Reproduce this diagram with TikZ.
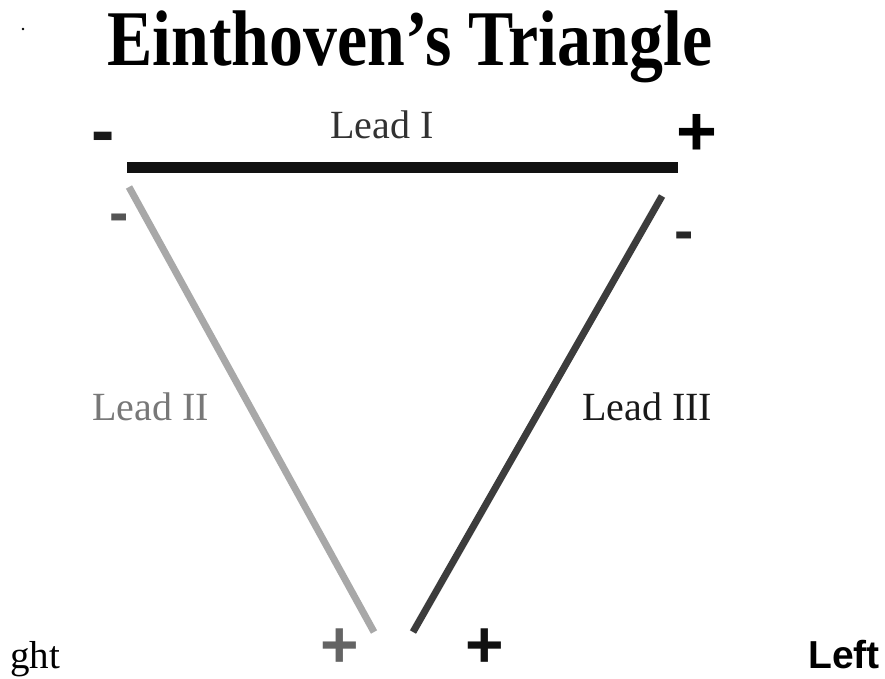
\documentclass[tikz,border=0pt]{standalone}
\usepackage{fontspec}
\setmainfont{Liberation Serif}
\newfontfamily\arialbold{Liberation Sans}
\begin{document}
\begin{tikzpicture}[x=1pt,y=-1pt,
  sign/.style={inner sep=0pt,anchor=base,text depth=0pt,font=\fontsize{#1}{#1}\selectfont\bfseries\arialbold},
  leadlbl/.style={inner sep=0pt,anchor=base west,font=\fontsize{40}{40}\selectfont},
  leadline/.style={line width=#1,line cap=butt}]
\useasboundingbox[fill=white] (0,0) rectangle (885,679);
% title
\node[inner sep=0pt,anchor=base west,font=\fontsize{75}{75}\selectfont\bfseries] (title) at (107,66) {\resizebox{605pt}{!}{\scalebox{0.86}[1]{Einthoven’s Triangle}}};
\fill (23,29) circle (1.4);
% leads
\coordinate (l1a) at (127,167.5);
\coordinate (l1b) at (678,167.5);
\coordinate (l2a) at (129,187);
\coordinate (l2b) at (374,632);
\coordinate (l3a) at (662,196);
\coordinate (l3b) at (413,632);
\draw[leadline=11pt,color={rgb,255:red,17;green,17;blue,17}] (l1a) -- (l1b);
\draw[leadline=7pt,color={rgb,255:red,168;green,168;blue,168}] (l2a) -- (l2b);
\draw[leadline=7pt,color={rgb,255:red,60;green,60;blue,60}] (l3a) -- (l3b);
% labels
\node[leadlbl,text={rgb,255:red,50;green,50;blue,50}] (lead1) at (330,139) {Lead I};
\node[leadlbl,text={rgb,255:red,120;green,120;blue,120}] (lead2) at (92,420) {Lead II};
\node[leadlbl,text={rgb,255:red,25;green,25;blue,25}] (lead3) at (582,420) {Lead III};
% signs
\node[sign=70,text={rgb,255:red,25;green,25;blue,25}] (m1) at (103,155) {-};
\node[sign=70] (p1) at (697,156) {+};
\node[sign=58,text={rgb,255:red,85;green,85;blue,85}] (m2) at (119,232) {-};
\node[sign=58,text={rgb,255:red,40;green,40;blue,40}] (m3) at (684,250) {-};
\node[sign=66,text={rgb,255:red,100;green,100;blue,100}] (p2) at (340,667) {+};
\node[sign=66,text={rgb,255:red,17;green,17;blue,17}] (p3) at (485,667) {+};
% bottom words
\node[inner sep=0pt,anchor=base west,font=\fontsize{39}{39}\selectfont] (right) at (10,668) {ght};
\node[inner sep=0pt,anchor=base west,font=\fontsize{39}{39}\selectfont\bfseries\arialbold] (left) at (808,668) {Left};
\end{tikzpicture}
\end{document}
